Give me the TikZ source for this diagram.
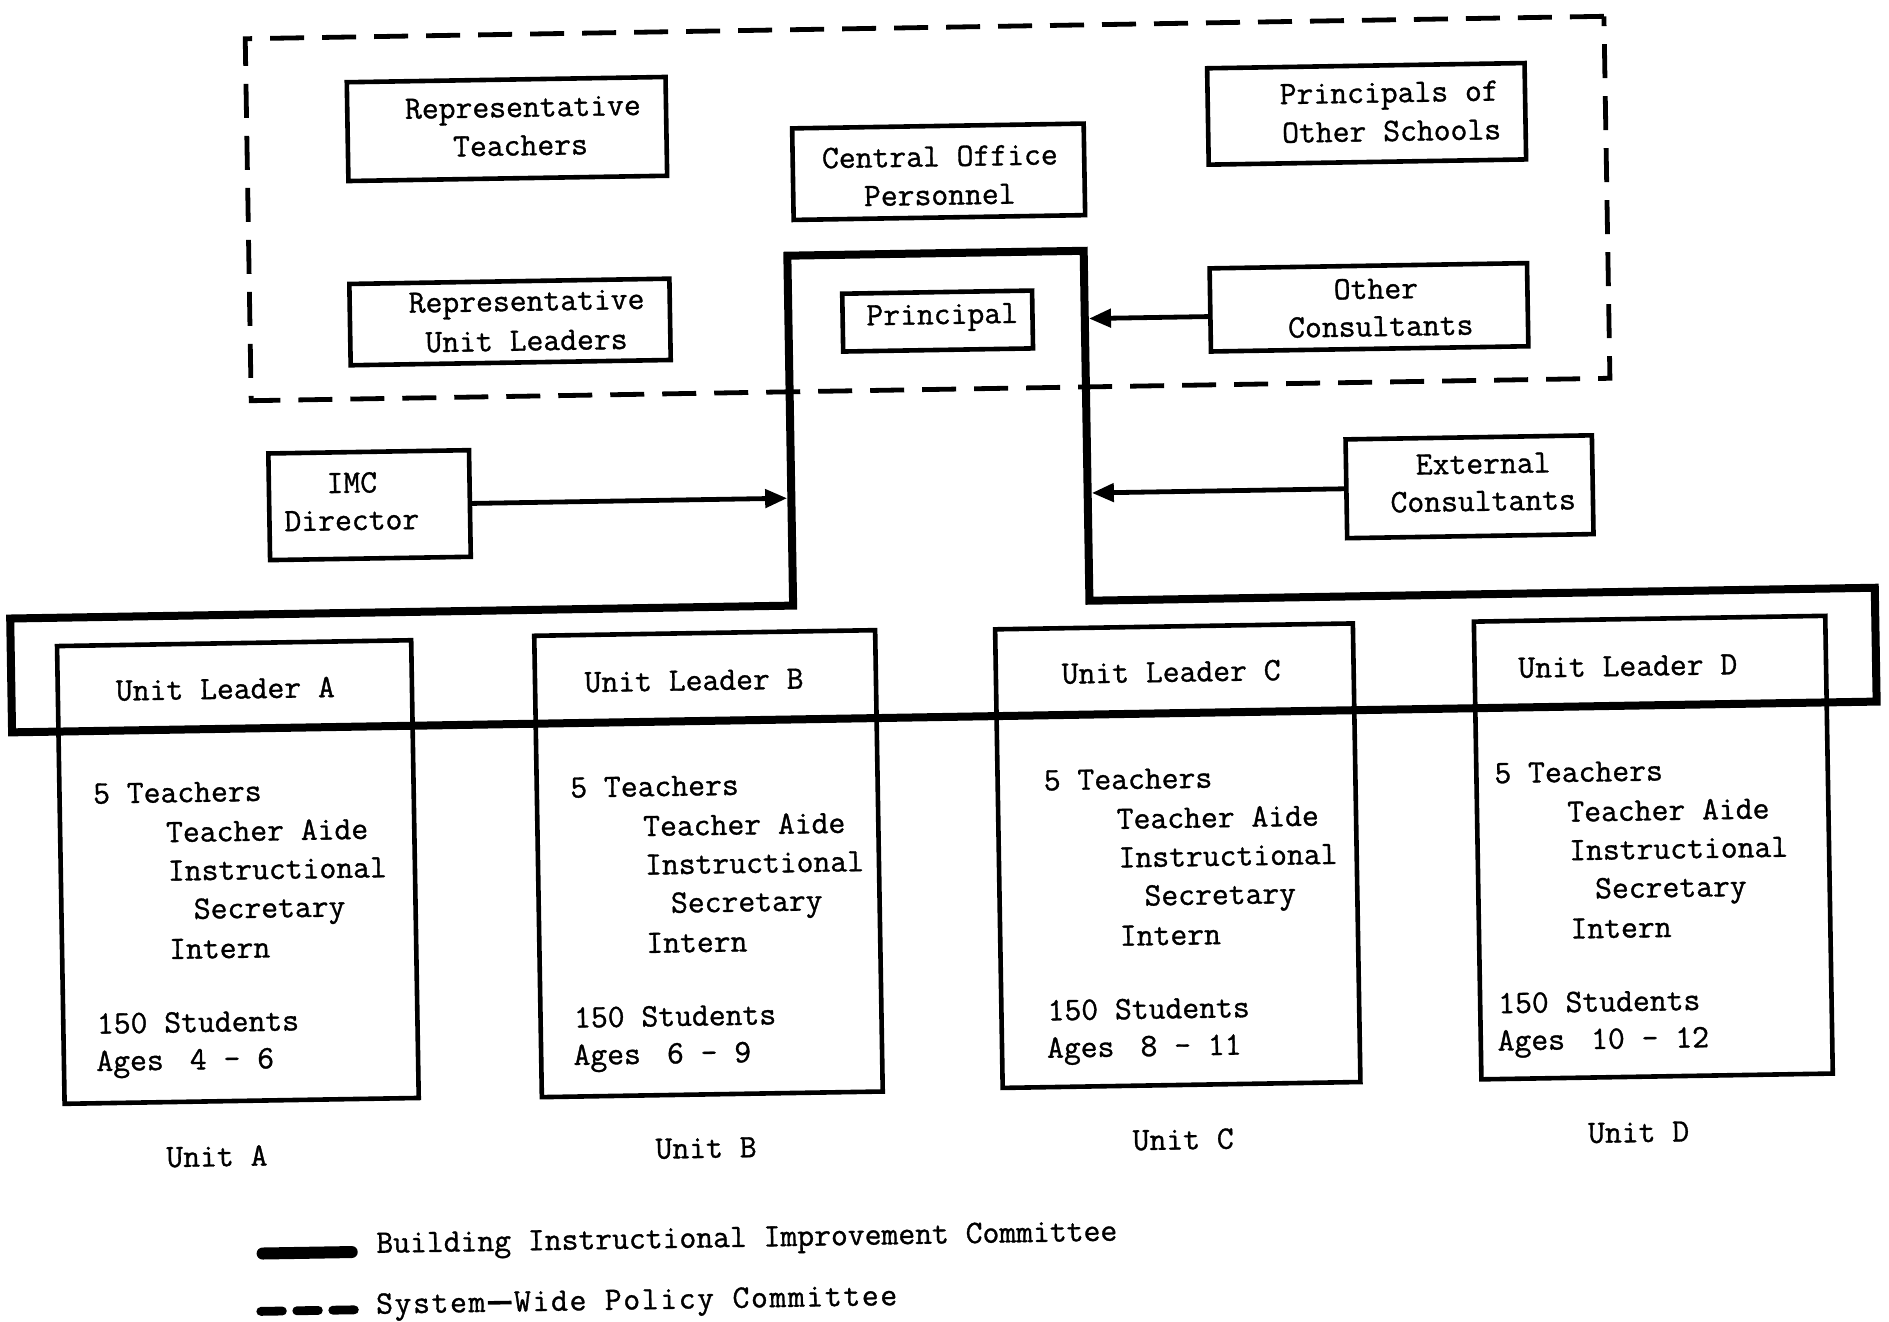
\documentclass[tikz,border=0pt]{standalone}
\usepackage{fontspec}
\setmonofont{Latin Modern Mono}[FakeBold=1.0]
\usetikzlibrary{arrows.meta}
\begin{document}
\begin{tikzpicture}[x=0.60235pt,y=-0.60235pt,
  bx/.style n args={2}{draw, line width=2.3pt, minimum width=#1*0.60235pt, minimum height=#2*0.60235pt, inner sep=0pt},
  txt/.style={font=\fontsize{16.35}{19.3}\selectfont\ttfamily, inner sep=0pt, anchor=base},
  ltxt/.style={txt, anchor=base west},
  committee/.style={line width=4pt, line join=miter},
  policy/.style={line width=2.4pt, dash pattern=on 17pt off 9pt},
  arr/.style={line width=2.4pt, -{Triangle[length=11pt,width=9pt]}},
]
\fill[white] (0,0) rectangle (1568,1097);
\useasboundingbox (0,0) rectangle (1568,1097);
\begin{scope}[rotate=0.945, transform shape]
% System-wide policy committee (dashed)
\node[bx={1128}{300.5}, policy] (swp) at (767,185.75) {};
% boxes
\node[bx={264.6}{82}] (rt) at (419,114) {};
\node[txt] (rt1) at (432.5,104.2) {Representative};
\node[txt] (rt2) at (430,136.1) {Teachers};
\node[bx={242}{76}] (co) at (776.7,155.4) {};
\node[txt] (co1) at (777.9,150.9) {Central Office};
\node[txt] (co2) at (777.3,182.9) {Personnel};
\node[bx={263.5}{80}] (po) at (1132.7,113.2) {};
\node[txt] (po1) at (1151.7,104) {Principals of};
\node[txt] (po2) at (1153.2,136.1) {Other Schools};
\node[bx={265.7}{67.5}] (ru) at (418.9,274.2) {};
\node[txt] (ru1) at (432.9,265.2) {Representative};
\node[txt] (ru2) at (432.3,298.2) {Unit Leaders};
\node[bx={157.6}{48}] (pr) at (773.8,279.3) {};
\node[txt] (pr1) at (777.7,281.9) {Principal};
\node[bx={263.5}{69}] (oc) at (1132,273.8) {};
\node[txt] (oc1) at (1138,266.8) {Other};
\node[txt] (oc2) at (1141.5,297.9) {Consultants};
\node[bx={166.6}{88.5}] (imc) at (299.8,424.3) {};
\node[txt] (imc1) at (285.4,413.8) {IMC};
\node[txt] (imc2) at (284.9,444.8) {Director};
\node[bx={204.5}{82}] (ec) at (1213,424.1) {};
\node[txt] (ec1) at (1224.6,413.3) {External};
\node[txt] (ec2) at (1224.1,444.3) {Consultants};
% Building Instructional Improvement Committee outline
\coordinate (b1) at (650,223);
\coordinate (b2) at (896,223);
\coordinate (b3) at (896,513.5);
\coordinate (b4) at (1548,513.5);
\coordinate (b5) at (1548,608);
\coordinate (b6) at (0,608);
\coordinate (b7) at (0,513.5);
\coordinate (b8) at (650,513.5);
\draw[committee] (b1) -- (b2) -- (b3) -- (b4) -- (b5) -- (b6) -- (b7) -- (b8) -- cycle;
\coordinate (colL) at (646.5,420);
\coordinate (colR) at (899.5,420);
% arrows
\draw[arr] (imc.east) -- (imc.east -| colL);
\draw[arr] (oc.west |- pr.center) -- (colR |- pr.center);
\draw[arr] (ec.west) -- (ec.west -| colR);
% unit boxes
\node[bx={294}{380}] (ua) at (185.5,727) {};
\node[bx={283}{383}] (ub) at (576.2,726.5) {};
\node[bx={297}{380.7}] (uc) at (965.8,726.3) {};
\node[bx={291.7}{380}] (ud) at (1360.6,726.1) {};
\node[txt] (ula) at (177.6,583.1) {Unit Leader A};
\node[txt] (ulb) at (566.7,582.5) {Unit Leader B};
\node[txt] (ulc) at (962.8,582) {Unit Leader C};
\node[txt] (uld) at (1341.9,583.3) {Unit Leader D};
\foreach \n/\ox/\oy/\ages in {a/66.1/668.3/{Ages\hspace{0.8em}4 - 6}, b/462.2/669.8/{Ages\hspace{0.8em}6 - 9}, c/855.3/670.3/{Ages\hspace{0.8em}8 - 11}, d/1229.4/670.5/{Ages\hspace{0.8em}10 - 12}}{
  \node[ltxt] (t\n1) at (\ox,\oy) {5 Teachers};
  \node[ltxt] (t\n2) at (\ox+60,\oy+33) {Teacher Aide};
  \node[ltxt] (t\n3) at (\ox+61,\oy+65) {Instructional};
  \node[ltxt] (t\n4) at (\ox+82,\oy+97) {Secretary};
  \node[ltxt] (t\n5) at (\ox+61,\oy+130) {Intern};
  \node[ltxt] (t\n6) at (\ox,\oy+191) {150 Students};
  \node[ltxt] (t\n7) at (\ox-1,\oy+222) {\ages};
}
\node[txt] (una) at (164.2,971) {Unit A};
\node[txt] (unb) at (570.3,970.7) {Unit B};
\node[txt] (unc) at (966.4,970.2) {Unit C};
\node[txt] (und) at (1344.5,970.4) {Unit D};
% legend
\coordinate (l1a) at (200.8,1044);
\coordinate (l1b) at (274.8,1044);
\draw[line width=6pt, line cap=round] (l1a) -- (l1b);
\node[ltxt] (lg1) at (295,1045) {Building Instructional Improvement Committee};
\coordinate (l2a) at (198.5,1092);
\coordinate (l2b) at (276.5,1092);
\draw[line width=4.4pt, line cap=round, dash pattern=on 10.8pt off 7.2pt] (l2a) -- (l2b);
\node[ltxt] (lg2) at (294,1095.5) {\addfontfeature{LetterSpace=5}System\kern0.08em\rule[0.22em]{0.72em}{0.11em}\kern0.08em Wide Policy Committee};
\end{scope}
\end{tikzpicture}
\end{document}
